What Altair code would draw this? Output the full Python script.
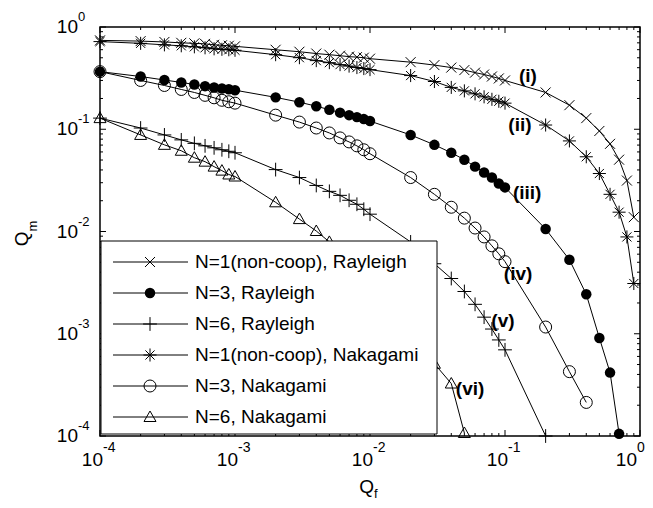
import altair as alt
import pandas as pd

# ---------------- data ----------------
qf = [1e-4, 2e-4, 3e-4, 4e-4, 5e-4, 6e-4, 7e-4, 8e-4, 9e-4,
      1e-3, 2e-3, 3e-3, 4e-3, 5e-3, 6e-3, 7e-3, 8e-3, 9e-3,
      1e-2, 2e-2, 3e-2, 4e-2, 5e-2, 6e-2, 7e-2, 8e-2, 9e-2,
      1e-1, 2e-1, 3e-1, 4e-1, 5e-1, 6e-1, 7e-1, 8e-1, 9e-1]

qm_n1_rayleigh = [0.740, 0.728, 0.714, 0.700, 0.692, 0.684, 0.670, 0.662, 0.655,
                  0.647, 0.599, 0.573, 0.550, 0.536, 0.524, 0.513, 0.507, 0.501,
                  0.490, 0.453, 0.424, 0.401, 0.379, 0.358, 0.343, 0.328, 0.314,
                  0.300, 0.229, 0.172, 0.1285, 0.0962, 0.0720, 0.0504, 0.0315, 0.0138]

qm_n3_rayleigh = [0.366, 0.328, 0.303, 0.287, 0.274, 0.264, 0.256, 0.250, 0.246,
                  0.241, 0.205, 0.184, 0.168, 0.1554, 0.1453, 0.1374, 0.1314, 0.1257,
                  0.1202, 0.0880, 0.0704, 0.0589, 0.0504, 0.0431, 0.0377, 0.0337, 0.0295,
                  0.0270, 0.01057, 0.0053, 0.00243, 0.00091, 0.000417, 0.000105]

qm_n6_rayleigh = [0.1285, 0.1028, 0.0880, 0.0787, 0.0728, 0.0688, 0.0658, 0.0630, 0.0609,
                  0.0589, 0.0403, 0.0337, 0.0282, 0.0247, 0.02257, 0.0202, 0.01846, 0.01651,
                  0.01477, 0.00791, 0.00484, 0.00347, 0.00259, 0.00194, 0.001453, 0.001112, 0.00087,
                  0.000696, 0.000100]

qm_n1_nakagami = [0.720, 0.692, 0.669, 0.655, 0.640, 0.626, 0.612, 0.605, 0.599,
                  0.592, 0.536, 0.501, 0.469, 0.448, 0.4285, 0.4145, 0.401, 0.392,
                  0.383, 0.335, 0.293, 0.2566, 0.2373, 0.2220, 0.2076, 0.1963, 0.1877,
                  0.180, 0.110, 0.0769, 0.0538, 0.0369, 0.0231, 0.01545, 0.00885, 0.0031]

qm_n3_nakagami = [0.366, 0.300, 0.268, 0.245, 0.229, 0.2146, 0.2030, 0.192, 0.1857,
                  0.180, 0.1374, 0.1175, 0.1028, 0.0920, 0.0823, 0.0752, 0.0688, 0.0630,
                  0.0576, 0.0337, 0.0231, 0.01727, 0.01351, 0.01081, 0.00885, 0.00724, 0.00605,
                  0.00507, 0.001163, 0.000426, 0.000213]

qm_n6_nakagami = [0.1285, 0.0880, 0.0704, 0.0616, 0.0527, 0.0482, 0.0431, 0.0394, 0.0361,
                  0.0345, 0.0193, 0.01322, 0.01011, 0.00791, 0.00633, 0.00518, 0.00433, 0.00362,
                  0.0031, 0.001063, 0.000509, 0.000326, 0.000107]

legend_labels = ["N=1(non-coop), Rayleigh", "N=3, Rayleigh", "N=6, Rayleigh",
                 "N=1(non-coop), Nakagami", "N=3, Nakagami", "N=6, Nakagami"]

curve_tags = ["(i)", "(ii)", "(iii)", "(iv)", "(v)", "(vi)"]
tag_qf = [0.148, 0.129, 0.146, 0.125, 0.0966, 0.0551]
tag_qm = [0.335, 0.110, 0.0236, 0.00388, 0.00133, 0.00029]

major_ticks = [1e-4, 1e-3, 1e-2, 1e-1, 1.0]
major_exp = ["-4", "-3", "-2", "-1", "0"]
minor_ticks = [m * 10.0 ** e for e in (-4, -3, -2, -1) for m in range(2, 10)]

# ---------------- style ----------------
W, H = 540, 409
TOP = 19
FONT = "Liberation Sans"
xs = alt.Scale(type="log", domain=[1e-4, 1], nice=False)
ys = alt.Scale(type="log", domain=[1e-4, 1], nice=False)


def X(f):
    return alt.X(f, type="quantitative", scale=xs, axis=None)


def Y(f):
    return alt.Y(f, type="quantitative", scale=ys, axis=None)


P_X = "M-1,-1L1,1M-1,1L1,-1"
P_PLUS = "M-1,0L1,0M0,-1L0,1"
P_STAR = "M-1,0L1,0M0,-1L0,1M-0.7,-0.7L0.7,0.7M-0.7,0.7L0.7,-0.7"
P_TRI = "M0,-1L1,0.75L-1,0.75Z"

series = [
    (qm_n1_rayleigh, P_X, 100, False),
    (qm_n3_rayleigh, "circle", 110, True),
    (qm_n6_rayleigh, P_PLUS, 190, False),
    (qm_n1_nakagami, P_STAR, 170, False),
    (qm_n3_nakagami, "circle", 144, False),
    (qm_n6_nakagami, P_TRI, 144, False),
]

layers = []

# ticks (inside, all four sides)
mj = pd.DataFrame({"v": major_ticks})
mn = pd.DataFrame({"v": minor_ticks})
for df, ln in ((mj, 6), (mn, 3)):
    layers.append(alt.Chart(df).mark_rule(color="black", strokeWidth=1).encode(
        x=X("v"), y=alt.value(H), y2=alt.value(H - ln)))
    layers.append(alt.Chart(df).mark_rule(color="black", strokeWidth=1).encode(
        x=X("v"), y=alt.value(0), y2=alt.value(ln)))
    layers.append(alt.Chart(df).mark_rule(color="black", strokeWidth=1).encode(
        y=Y("v"), x=alt.value(0), x2=alt.value(ln)))
    layers.append(alt.Chart(df).mark_rule(color="black", strokeWidth=1).encode(
        y=Y("v"), x=alt.value(W), x2=alt.value(W - ln)))

# curves
for vals, shape, size, filled in series:
    df = pd.DataFrame({"qf": qf[:len(vals)], "qm": vals})
    layers.append(alt.Chart(df).mark_line(color="black", strokeWidth=1).encode(
        x=X("qf"), y=Y("qm")))
    layers.append(alt.Chart(df).mark_point(
        shape=shape, size=size, filled=filled, color="black",
        strokeWidth=1, opacity=1).encode(x=X("qf"), y=Y("qm")))

# curve tags
tags = pd.DataFrame({"qf": tag_qf, "qm": tag_qm, "t": curve_tags})
layers.append(alt.Chart(tags).mark_text(
    font=FONT, fontSize=19, fontWeight="bold", align="center",
    baseline="middle", color="black").encode(x=X("qf"), y=Y("qm"), text="t:N"))

# legend
LT = 241 - 8 - TOP
layers.append(alt.Chart(pd.DataFrame({"a": [0]})).mark_rect(
    fill="white", stroke="black", strokeWidth=1).encode(
    x=alt.value(1), x2=alt.value(337), y=alt.value(LT), y2=alt.value(H - 2)))
row_y0, row_dy = LT + 21, 31
for i, (lab, (vals, shape, size, filled)) in enumerate(zip(legend_labels, series)):
    ry = row_y0 + i * row_dy
    d = pd.DataFrame({"label": [lab]})
    layers.append(alt.Chart(d).mark_rule(color="black", strokeWidth=1).encode(
        x=alt.value(13), x2=alt.value(88), y=alt.value(ry)))
    layers.append(alt.Chart(d).mark_point(
        shape=shape, size=size, filled=filled, color="black",
        strokeWidth=1, opacity=1).encode(x=alt.value(50), y=alt.value(ry)))
    layers.append(alt.Chart(d).mark_text(
        font=FONT, fontSize=19, align="left", baseline="middle",
        color="black").encode(x=alt.value(95), y=alt.value(ry), text="label:N"))

# tick labels
tl = pd.DataFrame({"v": major_ticks, "base": ["10"] * 5, "exp": major_exp})
for flt, dx in (("datum.v < 0.5", 3), ("datum.v >= 0.5", -3)):
    layers.append(alt.Chart(tl).transform_filter(flt).mark_text(
        font=FONT, fontSize=19, align="right", baseline="middle", dx=dx,
        color="black").encode(x=X("v"), y=alt.value(H + 24), text="base:N"))
    layers.append(alt.Chart(tl).transform_filter(flt).mark_text(
        font=FONT, fontSize=14, align="left", baseline="middle", dx=dx,
        color="black").encode(x=X("v"), y=alt.value(H + 12), text="exp:N"))
layers.append(alt.Chart(tl).mark_text(
    font=FONT, fontSize=19, align="right", baseline="middle",
    color="black").encode(x=alt.value(-22), y=Y("v"), text="base:N"))
layers.append(alt.Chart(tl).mark_text(
    font=FONT, fontSize=13, align="left", baseline="alphabetic", dy=-6,
    color="black").encode(x=alt.value(-22), y=Y("v"), text="exp:N"))

# axis titles
ttl = pd.DataFrame({"q": ["Q"], "f": ["f"], "m": ["m"]})
layers.append(alt.Chart(ttl).mark_text(
    font=FONT, fontSize=19, align="right", baseline="alphabetic",
    color="black").encode(x=alt.value(W / 2 + 4), y=alt.value(H + 57), text="q:N"))
layers.append(alt.Chart(ttl).mark_text(
    font=FONT, fontSize=13, align="left", baseline="alphabetic",
    color="black").encode(x=alt.value(W / 2 + 4), y=alt.value(H + 62), text="f:N"))
layers.append(alt.Chart(ttl).mark_text(
    font=FONT, fontSize=19, align="right", baseline="alphabetic", angle=270,
    color="black").encode(x=alt.value(-72), y=alt.value(H / 2), text="q:N"))
layers.append(alt.Chart(ttl).mark_text(
    font=FONT, fontSize=13, align="left", baseline="alphabetic", angle=270,
    color="black").encode(x=alt.value(-63), y=alt.value(H / 2), text="m:N"))

chart = alt.layer(*layers).properties(
    width=W, height=H,
    padding={"left": 92, "top": TOP, "right": 5, "bottom": 492 - TOP - H},
    autosize=alt.AutoSizeParams(type="none"),
    background="white",
).configure_view(stroke="black", strokeWidth=1.5)

chart.save("out.html", embed_options={"renderer": "svg", "actions": False})
